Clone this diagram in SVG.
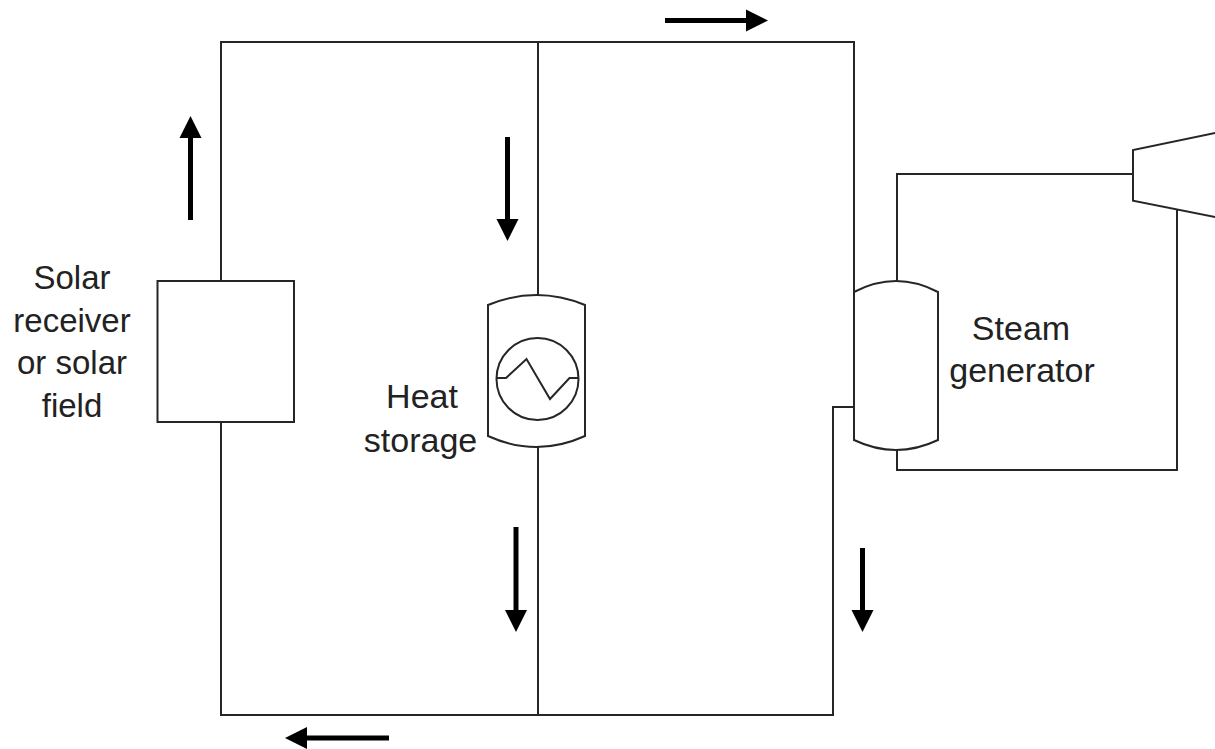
<svg xmlns="http://www.w3.org/2000/svg" width="1215" height="749" viewBox="0 0 1215 749">
  <style>
    .ln { fill: none; stroke: #262626; stroke-width: 2; }
    .shape { fill: #ffffff; stroke: #262626; stroke-width: 2; }
    .flow { fill: none; stroke: #000000; stroke-width: 5; marker-end: url(#head); }
    .lbl { font-family: "Liberation Sans", Arial, sans-serif; font-size: 34px; fill: #222222; text-anchor: middle; }
  </style>
  <defs>
    <marker id="head" markerUnits="userSpaceOnUse" markerWidth="24" markerHeight="24" refX="2" refY="11" orient="auto" viewBox="0 0 24 22">
      <path d="M0,0 L22,11 L0,22 Z" fill="#000000"/>
    </marker>
  </defs>
  <rect width="1215" height="749" fill="#ffffff"/>

  <g id="connectors">
    <path class="ln" d="M221,281 V42 H854 V292"/>
    <path class="ln" d="M221,422 V715 H833 V407 H854"/>
    <path class="ln" d="M538,42 V295"/>
    <path class="ln" d="M538,447 V715"/>
    <path class="ln" d="M897,281 V174 H1133"/>
    <path class="ln" d="M897,450 V470 H1177 V209"/>
  </g>

  <g id="solar-receiver">
    <rect class="shape" x="157.5" y="281" width="136.5" height="141"/>
    <text class="lbl" style="font-size:33px" x="72" y="289">Solar</text>
    <text class="lbl" style="font-size:33px" x="72" y="331.5">receiver</text>
    <text class="lbl" style="font-size:33px" x="72" y="373.5">or solar</text>
    <text class="lbl" style="font-size:33px" x="72" y="416.5">field</text>
  </g>

  <g id="heat-storage">
    <path class="shape" d="M488,305 Q536.5,285 585,305 L585,436 Q536.5,458 488,436 Z"/>
    <circle class="ln" cx="537.5" cy="379" r="41"/>
    <path class="ln" d="M496.5,378 H506 L526.5,359 L550,399 L569.5,378 H578.5"/>
    <text class="lbl" x="422" y="408">Heat</text>
    <text class="lbl" x="420.5" y="451.5">storage</text>
  </g>

  <g id="steam-generator">
    <path class="shape" d="M854,292 Q896,270 938,292 L938,440 Q896,460 854,440 Z"/>
    <text class="lbl" x="1021" y="340">Steam</text>
    <text class="lbl" x="1022" y="381.5">generator</text>
  </g>

  <g id="turbine">
    <path class="shape" d="M1220,132 L1133,150 L1133,200.7 L1220,218"/>
  </g>

  <g id="flow-arrows">
    <path class="flow" d="M190.5,220 V136"/>
    <path class="flow" d="M665,20.5 H748"/>
    <path class="flow" d="M507.5,137 V221"/>
    <path class="flow" d="M516,527 V612"/>
    <path class="flow" d="M862.5,548 V612"/>
    <path class="flow" d="M389,738 H305"/>
  </g>
</svg>
